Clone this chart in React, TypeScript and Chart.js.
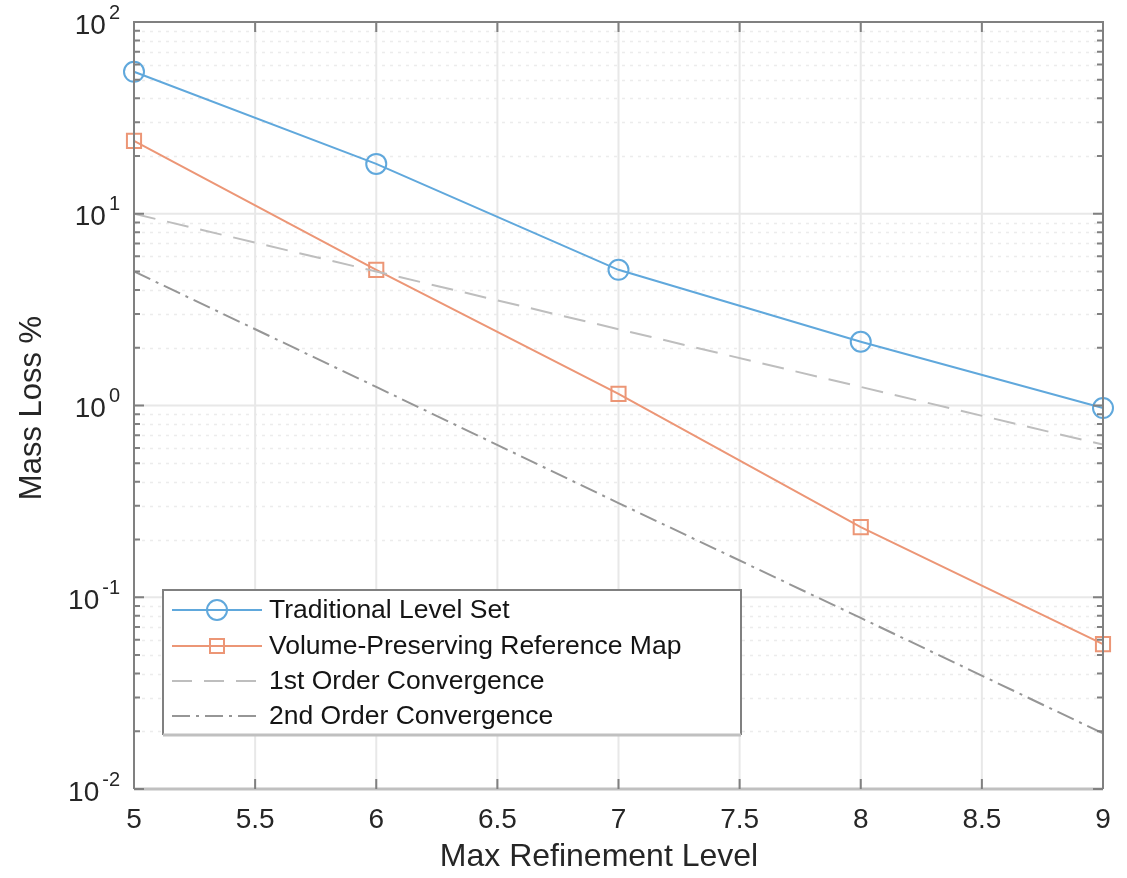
import React, { useEffect, useRef } from "react";
import { Chart, registerables } from "chart.js";

Chart.register(...registerables);

const levels = [5, 6, 7, 8, 9];
const traditional = [55, 18.2, 5.1, 2.15, 0.97];
const volumePreserving = [24, 5.1, 1.15, 0.232, 0.057];
const firstOrder = [10, 5, 2.5, 1.25, 0.625];
const secondOrder = [5, 1.25, 0.31, 0.078, 0.0195];

const xTicks = [5, 5.5, 6, 6.5, 7, 7.5, 8, 8.5, 9];
const xTickLabels = ["5", "5.5", "6", "6.5", "7", "7.5", "8", "8.5", "9"];
const yExponents = [-2, -1, 0, 1, 2];
const yExponentLabels = ["-2", "-1", "0", "1", "2"];

const seriesNames = [
  "Traditional Level Set",
  "Volume-Preserving Reference Map",
  "1st Order Convergence",
  "2nd Order Convergence",
];

const BLUE = "rgb(96,168,220)";
const ORANGE = "rgb(236,150,118)";
const GRAY1 = "rgb(190,190,190)";
const GRAY2 = "rgb(150,150,150)";
const FONT = '"Liberation Sans", Arial, Helvetica, sans-serif';
const AXIS_DARK = "rgb(128,128,128)";
const AXIS_LIGHT = "rgb(192,192,192)";

const matlabPlugin = {
  id: "matlabAxes",
  beforeDatasetsDraw(chart: any) {
    const { ctx, chartArea: a, scales } = chart;
    const xs = scales.x;
    const ys = scales.y;
    ctx.save();
    // minor grid (dotted)
    ctx.strokeStyle = "rgb(236,236,236)";
    ctx.lineWidth = 1.5;
    ctx.setLineDash([3, 5]);
    for (let d = -2; d < 2; d++) {
      for (let m = 2; m <= 9; m++) {
        const py = Math.round(ys.getPixelForValue(m * Math.pow(10, d))) + 0.5;
        ctx.beginPath();
        ctx.moveTo(a.left, py);
        ctx.lineTo(a.right, py);
        ctx.stroke();
      }
    }
    ctx.setLineDash([]);
    // major grid
    ctx.strokeStyle = "rgb(232,232,232)";
    ctx.lineWidth = 2;
    for (const e of yExponents) {
      const py = ys.getPixelForValue(Math.pow(10, e));
      ctx.beginPath();
      ctx.moveTo(a.left, py);
      ctx.lineTo(a.right, py);
      ctx.stroke();
    }
    for (const t of xTicks) {
      const px = xs.getPixelForValue(t);
      ctx.beginPath();
      ctx.moveTo(px, a.top);
      ctx.lineTo(px, a.bottom);
      ctx.stroke();
    }
    ctx.restore();
  },
  afterDatasetsDraw(chart: any) {
    const { ctx, chartArea: a, scales } = chart;
    const xs = scales.x;
    const ys = scales.y;
    ctx.save();
    // axes box
    ctx.lineWidth = 2;
    ctx.strokeStyle = AXIS_DARK;
    ctx.beginPath();
    ctx.moveTo(a.left, a.bottom);
    ctx.lineTo(a.left, a.top);
    ctx.lineTo(a.right, a.top);
    ctx.lineTo(a.right, a.bottom);
    ctx.stroke();
    ctx.strokeStyle = AXIS_LIGHT;
    ctx.lineWidth = 3;
    ctx.beginPath();
    ctx.moveTo(a.left, a.bottom);
    ctx.lineTo(a.right, a.bottom);
    ctx.stroke();

    // ticks
    ctx.strokeStyle = AXIS_DARK;
    ctx.lineWidth = 2;
    for (const t of xTicks) {
      const px = xs.getPixelForValue(t);
      ctx.beginPath();
      ctx.moveTo(px, a.bottom);
      ctx.lineTo(px, a.bottom - 10);
      ctx.moveTo(px, a.top);
      ctx.lineTo(px, a.top + 10);
      ctx.stroke();
    }
    for (let d = -2; d <= 2; d++) {
      for (let m = 1; m <= 9; m++) {
        if (d === 2 && m > 1) break;
        const py = ys.getPixelForValue(m * Math.pow(10, d));
        const len = m === 1 ? 10 : 6;
        ctx.beginPath();
        ctx.moveTo(a.left, py);
        ctx.lineTo(a.left + len, py);
        ctx.moveTo(a.right, py);
        ctx.lineTo(a.right - len, py);
        ctx.stroke();
      }
    }

    // x tick labels
    ctx.fillStyle = "rgb(38,38,38)";
    ctx.font = `28px ${FONT}`;
    ctx.textAlign = "center";
    ctx.textBaseline = "middle";
    xTicks.forEach((t, i) => {
      ctx.fillText(xTickLabels[i], xs.getPixelForValue(t), a.bottom + 31);
    });

    // y tick labels 10^e
    yExponents.forEach((e, i) => {
      const py = ys.getPixelForValue(Math.pow(10, e)) + 4;
      const expText = yExponentLabels[i];
      ctx.font = `20px ${FONT}`;
      const ew = ctx.measureText(expText).width;
      const right = 120;
      ctx.textAlign = "left";
      ctx.textBaseline = "middle";
      ctx.fillText(expText, right - ew, py - 13);
      ctx.font = `28px ${FONT}`;
      ctx.textAlign = "right";
      ctx.fillText("10", right - ew - 3, py);
    });

    // axis titles
    ctx.font = `32px ${FONT}`;
    ctx.textAlign = "center";
    ctx.textBaseline = "middle";
    ctx.fillText("Max Refinement Level", 599, 857);
    ctx.save();
    ctx.translate(32, 408);
    ctx.rotate(-Math.PI / 2);
    ctx.font = `31px ${FONT}`;
    ctx.fillText("Mass Loss %", 0, 0);
    ctx.restore();

    // legend
    const L = 163, T = 590, R = 741, B = 735;
    ctx.fillStyle = "#ffffff";
    ctx.fillRect(L, T, R - L, B - T);
    ctx.lineWidth = 2;
    ctx.strokeStyle = AXIS_DARK;
    ctx.beginPath();
    ctx.moveTo(L, B);
    ctx.lineTo(L, T);
    ctx.lineTo(R, T);
    ctx.lineTo(R, B);
    ctx.stroke();
    ctx.strokeStyle = AXIS_LIGHT;
    ctx.lineWidth = 3;
    ctx.beginPath();
    ctx.moveTo(L, B);
    ctx.lineTo(R, B);
    ctx.stroke();

    const rows = [610, 646, 681, 716];
    const colors = [BLUE, ORANGE, GRAY1, GRAY2];
    const dashes = [[], [], [20, 12], [18, 6, 3, 6]];
    rows.forEach((ry, i) => {
      ctx.strokeStyle = colors[i];
      ctx.lineWidth = 2;
      ctx.setLineDash(dashes[i]);
      ctx.beginPath();
      ctx.moveTo(172, ry);
      ctx.lineTo(262, ry);
      ctx.stroke();
      ctx.setLineDash([]);
      if (i === 0) {
        ctx.beginPath();
        ctx.arc(217, ry, 10, 0, Math.PI * 2);
        ctx.stroke();
      } else if (i === 1) {
        ctx.strokeRect(217 - 7, ry - 7, 14, 14);
      }
      ctx.fillStyle = "rgb(20,20,20)";
      ctx.font = `26.5px ${FONT}`;
      ctx.textAlign = "left";
      ctx.textBaseline = "middle";
      ctx.fillText(seriesNames[i], 269, ry + 1);
    });
    ctx.restore();
  },
};

export default function App() {
  const canvasRef = useRef<HTMLCanvasElement | null>(null);

  useEffect(() => {
    const canvas = canvasRef.current;
    if (!canvas) return;
    const chart = new Chart(canvas, {
      type: "line",
      data: {
        datasets: [
          {
            label: seriesNames[0],
            data: levels.map((x, i) => ({ x, y: traditional[i] })),
            borderColor: BLUE,
            backgroundColor: "transparent",
            borderWidth: 2,
            pointStyle: "circle",
            pointRadius: 10,
            pointBorderWidth: 2,
            pointBorderColor: BLUE,
            pointBackgroundColor: "transparent",
            clip: false,
            order: 4,
          },
          {
            label: seriesNames[1],
            data: levels.map((x, i) => ({ x, y: volumePreserving[i] })),
            borderColor: ORANGE,
            backgroundColor: "transparent",
            borderWidth: 2,
            pointStyle: "rect",
            pointRadius: 10,
            pointBorderWidth: 2,
            pointBorderColor: ORANGE,
            pointBackgroundColor: "transparent",
            clip: false,
            order: 3,
          },
          {
            label: seriesNames[2],
            data: levels.map((x, i) => ({ x, y: firstOrder[i] })),
            borderColor: GRAY1,
            borderWidth: 2,
            borderDash: [22, 12],
            pointRadius: 0,
            order: 2,
          },
          {
            label: seriesNames[3],
            data: levels.map((x, i) => ({ x, y: secondOrder[i] })),
            borderColor: GRAY2,
            borderWidth: 2,
            borderDash: [18, 6, 3, 6],
            pointRadius: 0,
            order: 1,
          },
        ],
      },
      options: {
        responsive: false,
        animation: false,
        devicePixelRatio: 1,
        layout: { padding: { left: 134, right: 24, top: 22, bottom: 89 } },
        plugins: { legend: { display: false }, tooltip: { enabled: false } },
        scales: {
          x: { type: "linear", min: 5, max: 9, display: false },
          y: { type: "logarithmic", min: 0.01, max: 100, display: false },
        },
      },
      plugins: [matlabPlugin],
    } as any);
    return () => chart.destroy();
  }, []);

  return (
    <div style={{ position: "fixed", left: 0, top: 0, width: 1127, height: 878, background: "#fff" }}>
      <canvas ref={canvasRef} width={1127} height={878} style={{ display: "block" }} />
    </div>
  );
}
